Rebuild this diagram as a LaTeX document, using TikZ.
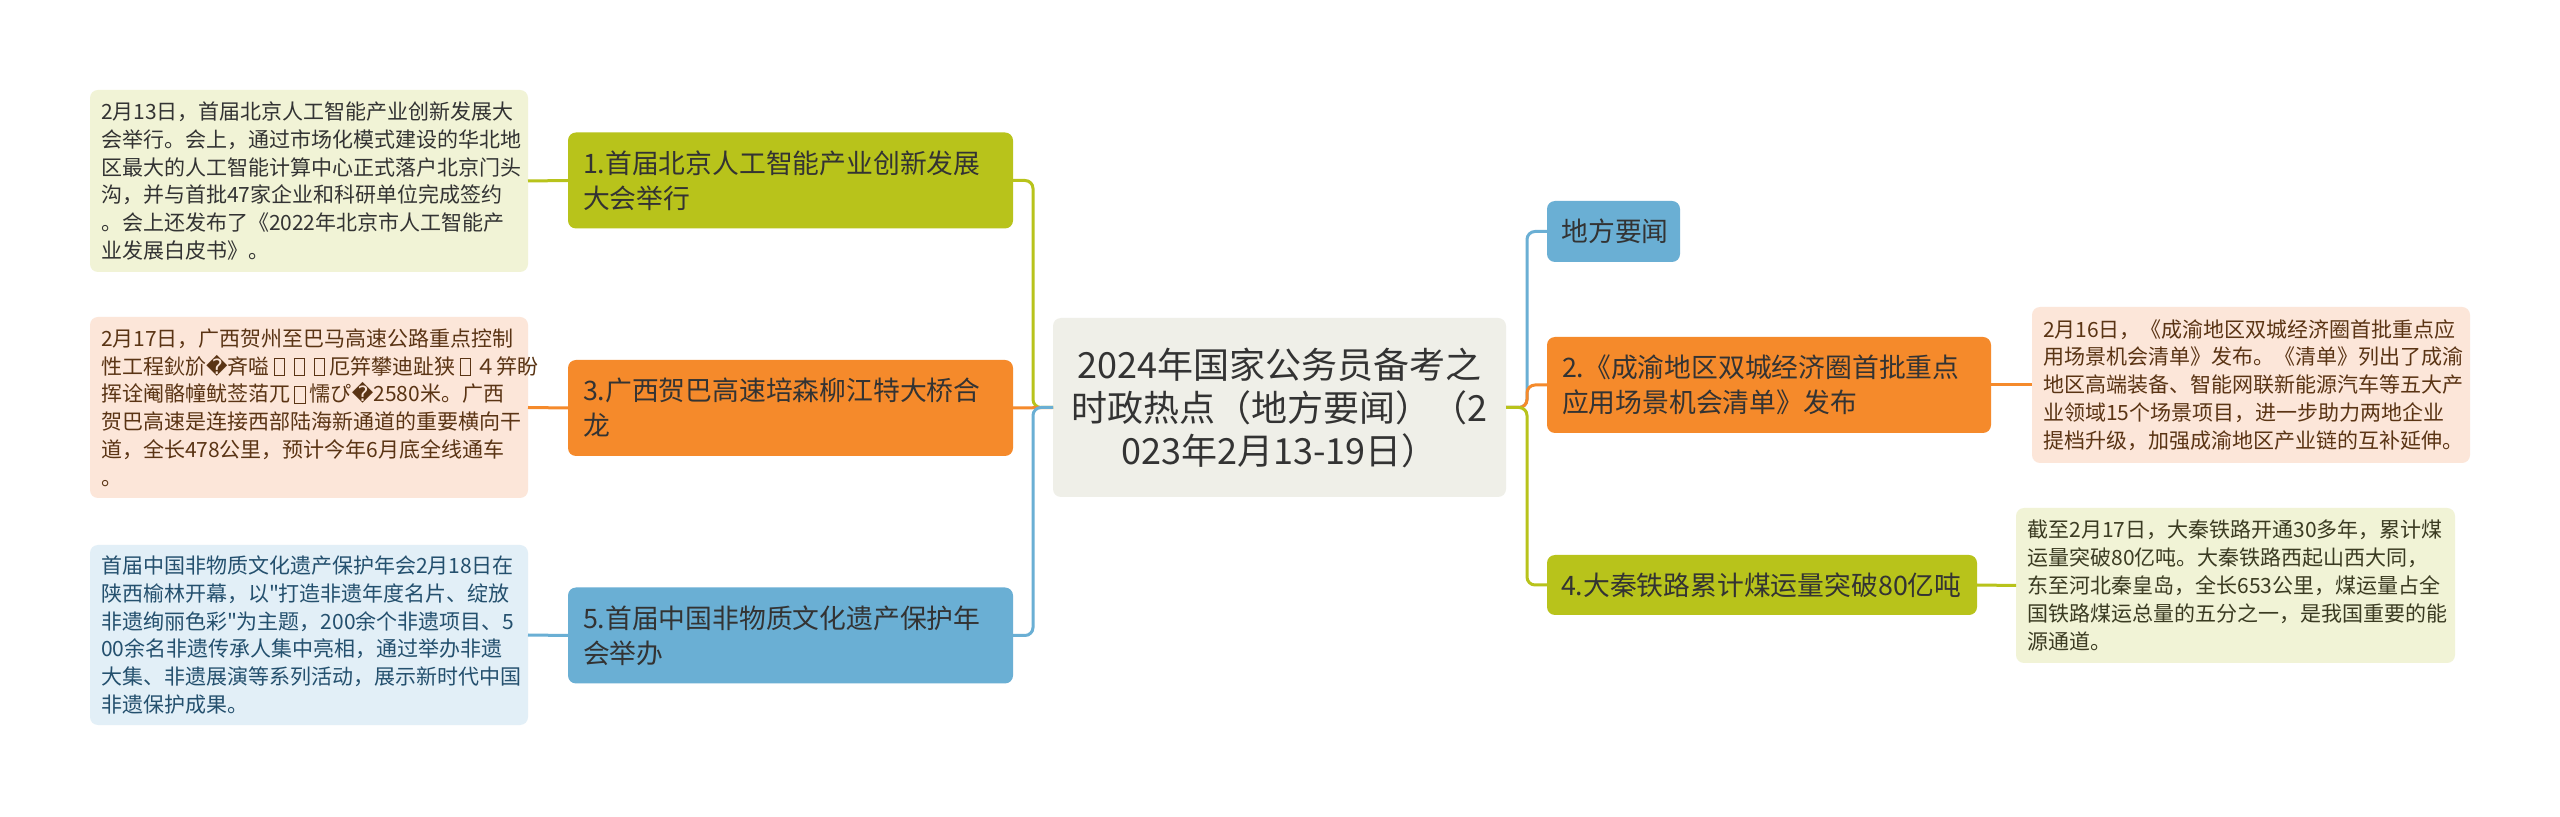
\documentclass[tikz,border=0pt]{standalone}
\usepackage{fontspec}
\newfontfamily\cjkfont{Noto Sans CJK SC}
\newfontfamily\replfont{DejaVu Sans}
\definecolor{branch-green}{HTML}{B8C31B}
\definecolor{branch-orange}{HTML}{F58A2B}
\definecolor{branch-blue}{HTML}{6AAFD4}
\definecolor{hub-bg}{HTML}{EFEFE8}
\definecolor{note-green}{HTML}{F1F3D6}
\definecolor{note-orange}{HTML}{FCE6D9}
\definecolor{note-blue}{HTML}{E2EFF7}
\definecolor{ink}{HTML}{333333}
\definecolor{ink-brown}{HTML}{5A3414}
\definecolor{ink-blue}{HTML}{24506E}
\definecolor{ink-olive}{HTML}{3B3B22}
\newcommand{\tofu}{\makebox[0.95em]{\setlength{\fboxsep}{0pt}\setlength{\fboxrule}{0.45pt}\fbox{\rule[-0.05em]{0pt}{0.78em}\hspace{0.45em}}}}

\begin{document}
\begin{tikzpicture}[x=0.5pt, y=-0.5pt,
        every node/.style={inner sep=0pt, outer sep=0pt},
        topic/.style={rounded corners=4pt, minimum width=222.5pt, minimum height=48pt,
            text width=207.5pt, align=left, text=ink,
            font=\cjkfont\fontsize{13.4pt}{17.5pt}\selectfont},
        note/.style={rounded corners=4pt, minimum width=219pt, text width=208pt,
            align=left, font=\cjkfont\fontsize{10.5pt}{13.9pt}\selectfont},
        link/.style={line width=1.5pt, rounded corners=4pt}]
      \useasboundingbox[fill=white] (0,0) rectangle (2560,817);
      \node[fill=hub-bg, rounded corners=4pt, minimum width=226.5pt, minimum height=89.5pt,
            align=center, text=ink, font=\cjkfont\fontsize{18pt}{21.5pt}\selectfont] (HUB) at (1279.5,407.5)
            {2024年国家公务员备考之\\时政热点（地方要闻）（2\\023年2月13-19日）};
      \node[topic, fill=branch-green] (N1) at (790.5,180.5) {1.首届北京人工智能产业创新发展\\大会举行};
      \node[topic, fill=branch-orange] (N3) at (790.5,408) {3.广西贺巴高速培森柳江特大桥合\\龙};
      \node[topic, fill=branch-blue] (N5) at (790.5,635.5) {5.首届中国非物质文化遗产保护年\\会举办};
      \node[topic, fill=branch-blue, minimum width=66.5pt, minimum height=30.5pt, text width=52pt] (LOC) at (1613.5,231.5) {地方要闻};
      \node[topic, fill=branch-orange, minimum width=222pt, text width=207pt] (N2) at (1769,385) {2.《成渝地区双城经济圈首批重点\\应用场景机会清单》发布};
      \node[topic, fill=branch-green, minimum width=215pt, minimum height=30pt, text width=201pt] (N4) at (1762,585) {4.大秦铁路累计煤运量突破80亿吨};
      \node[note, fill=note-green, text=ink, minimum height=91pt] (D1) at (309,181)
            {2月13日，首届北京人工智能产业创新发展大\\会举行。会上，通过市场化模式建设的华北地\\区最大的人工智能计算中心正式落户北京门头\\沟，并与首批47家企业和科研单位完成签约\\。会上还发布了《2022年北京市人工智能产\\业发展白皮书》。};
      \node[note, fill=note-orange, text=ink-brown, minimum height=90.5pt] (D3) at (309,407.5)
            {2月17日，广西贺州至巴马高速公路重点控制\\性工程鈥斺{\replfont �}斉嗌\tofu\tofu\tofu 厄笄攀迪趾狭\tofu ４笄盼\\挥诠阉骼幢鱿莶萡兀\tofu 懦ぴ{\replfont �}2580米。广西\\贺巴高速是连接西部陆海新通道的重要横向干\\道，全长478公里，预计今年6月底全线通车\\。};
      \node[note, fill=note-blue, text=ink-blue, minimum height=90pt] (D5) at (309,635)
            {首届中国非物质文化遗产保护年会2月18日在\\陕西榆林开幕，以"打造非遗年度名片、绽放\\非遗绚丽色彩"为主题，200余个非遗项目、5\\00余名非遗传承人集中亮相，通过举办非遗\\大集、非遗展演等系列活动，展示新时代中国\\非遗保护成果。};
      \node[note, fill=note-orange, text=ink-brown, minimum height=78pt] (D2) at (2251,385)
            {2月16日，《成渝地区双城经济圈首批重点应\\用场景机会清单》发布。《清单》列出了成渝\\地区高端装备、智能网联新能源汽车等五大产\\业领域15个场景项目，进一步助力两地企业\\提档升级，加强成渝地区产业链的互补延伸。};
      \node[note, fill=note-green, text=ink-olive, minimum height=77.5pt, minimum width=219.5pt] (D4) at (2235.5,585.5)
            {截至2月17日，大秦铁路开通30多年，累计煤\\运量突破80亿吨。大秦铁路西起山西大同，\\东至河北秦皇岛，全长653公里，煤运量占全\\国铁路煤运总量的五分之一，是我国重要的能\\源通道。};
      \draw[link, branch-green] (HUB.west) -- ++(-20,0) |- (N1.east);
      \draw[link, branch-orange] (HUB.west) -- (N3.east);
      \draw[link, branch-blue] (HUB.west) -- ++(-20,0) |- (N5.east);
      \draw[link, branch-blue] (HUB.east) -- ++(21,0) |- (LOC.west);
      \draw[link, branch-orange] (HUB.east) -- ++(21,0) |- (N2.west);
      \draw[link, branch-green] (HUB.east) -- ++(21,0) |- (N4.west);
      \draw[link, branch-green] (D1.east) -- (N1.west);
      \draw[link, branch-orange] (D3.east) -- (N3.west);
      \draw[link, branch-blue] (D5.east) -- (N5.west);
      \draw[link, branch-orange] (N2.east) -- (D2.west);
      \draw[link, branch-green] (N4.east) -- (D4.west);
    \end{tikzpicture}
\end{document}
